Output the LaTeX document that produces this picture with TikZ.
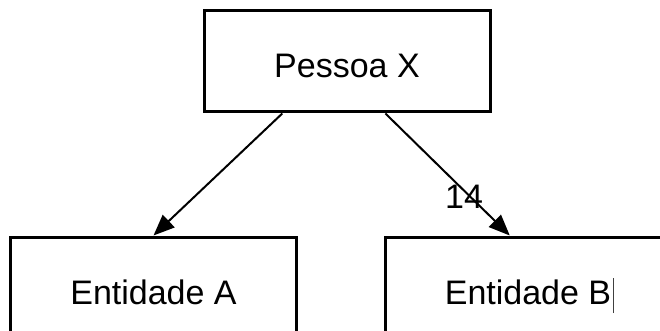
\documentclass[tikz,border=0pt]{standalone}
\usepackage{fontspec}
\setmainfont{Liberation Sans}
\usetikzlibrary{arrows.meta, calc}

\begin{document}
\begin{tikzpicture}[x = 1pt, y = -1pt,
		caixa/.style = {draw, line width = 3pt, minimum width = 286pt, minimum height = 101pt, inner sep = 0pt, text height = 33pt, text depth = 0pt, font = \fontsize{34}{40}\selectfont},
		seta/.style = {-{Triangle[length = 21pt, width = 17pt]}, line width = 2pt}]
		\useasboundingbox (0,0) rectangle (660,331);
		
		\node [caixa] (pessoa) at (347,61.5) {Pessoa X};
		\node [caixa] (entA) at (153.5,287.5) {Entidade A};
		\node [caixa] (entB) at (528,287.5) {Entidade B\rlap{\hspace{2pt}\color{darkgray}\rule[-9pt]{1pt}{35pt}}};
		
		\coordinate (saidaA) at ($(pessoa.south west)!0.276!(pessoa.south east)$);
		\coordinate (saidaB) at ($(pessoa.south west)!0.633!(pessoa.south east)$);
		\coordinate (chegadaB) at ($(entB.north west)!0.437!(entB.north east)$);
		
		\begin{scope}[seta]
			\draw (saidaA) -- (entA.north);
			\draw (saidaB) -- (chegadaB) node [pos = 0.68, xshift = -6pt, font = \fontsize{34}{40}\selectfont] {14};
		\end{scope}
	\end{tikzpicture}
\end{document}
